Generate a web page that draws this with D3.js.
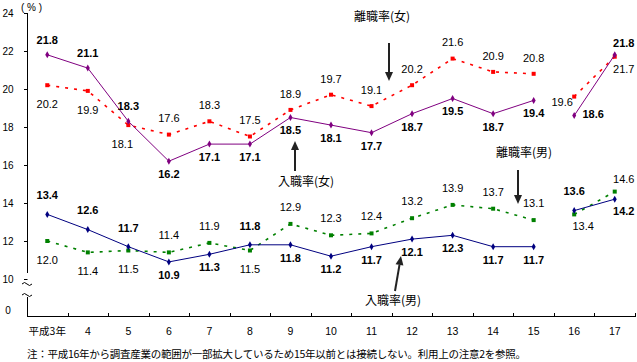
<!DOCTYPE html>
<html>
<head>
<meta charset="utf-8">
<script src="https://cdn.jsdelivr.net/npm/d3@7"></script>
<style>
  body { margin: 0; background: #fff; }
  svg text { font-family: "Liberation Sans", Arial, "Noto Sans CJK JP", sans-serif; }
  .jp { font-family: "Noto Sans CJK JP", sans-serif; }
</style>
</head>
<body>
<svg id="chart" width="637" height="362"></svg>
<script>
// categories (平成3年 .. 17年)
var years = ["平成3年", "4", "5", "6", "7", "8", "9", "10", "11", "12", "13", "14", "15", "16", "17"]
// 15年以前と16年以降は接続しない
var breakAt = 13

var nyuF = [21.8, 21.1, 18.3, 16.2, 17.1, 17.1, 18.5, 18.1, 17.7, 18.7, 19.5, 18.7, 19.4, 18.6, 21.8]
var riF  = [20.2, 19.9, 18.1, 17.6, 18.3, 17.5, 18.9, 19.7, 19.1, 20.2, 21.6, 20.9, 20.8, 19.6, 21.7]
var nyuM = [13.4, 12.6, 11.7, 10.9, 11.3, 11.8, 11.8, 11.2, 11.7, 12.1, 12.3, 11.7, 11.7, 13.6, 14.2]
var riM  = [12.0, 11.4, 11.5, 11.4, 11.9, 11.5, 12.9, 12.3, 12.4, 13.2, 13.9, 13.7, 13.1, 13.4, 14.6]

var yTicks = [10, 12, 14, 16, 18, 20, 22, 24]

// label placement per point (a = above, b = below, others special)
var placeNyuF = ["a","a","a","b","b","b","b","b","b","b","b","b","b","r","ar"]
var placeRiF  = ["b","b","bl","a","a","a","a","a","a","a","a","a","a","l","br"]
var placeNyuM = ["a","a","a","b","b","a","b","b","b","b","b","b","b","a","br"]
var placeRiM  = ["b","b","b","a","a","b","a","a","a","a","a","a","a","br","ar"]

var svg = d3.select("#chart")

var x = d3.scaleBand().domain(years).range([27, 635])
var y = d3.scaleLinear().domain([10, 24]).range([279, 13])
var yZero = 310
var axisY = 316

// y axis (broken between 0 and 10)
svg.append("line").attr("x1", 27.5).attr("x2", 27.5).attr("y1", 13).attr("y2", 273)
  .attr("stroke", "#000")
svg.append("line").attr("x1", 27.5).attr("x2", 27.5).attr("y1", 297).attr("y2", axisY)
  .attr("stroke", "#000")
yTicks.forEach(function (t) {
  svg.append("line").attr("x1", 24).attr("x2", 27.5)
    .attr("y1", Math.round(y(t)) + 0.5).attr("y2", Math.round(y(t)) + 0.5).attr("stroke", "#000")
  svg.append("text").attr("x", 8).attr("y", y(t)).attr("dy", "0.35em")
    .attr("text-anchor", "middle").attr("font-size", 10).text(t)
})
svg.append("text").attr("x", 8).attr("y", yZero).attr("dy", "0.35em")
  .attr("text-anchor", "middle").attr("font-size", 10).text(0)
// break marks
;[283, 294].forEach(function (yy) {
  svg.append("path")
    .attr("d", "M22," + (yy + 1) + " q2.5,-3 5,0 t5,0")
    .attr("fill", "none").attr("stroke", "#000").attr("stroke-width", 1)
})
svg.append("text").attr("x", 21).attr("y", 7).attr("dy", "0.35em").attr("font-size", 10)
  .attr("textLength", 21).attr("lengthAdjust", "spacing").text("(%)")

// x axis
svg.append("line").attr("x1", 27).attr("x2", 636).attr("y1", axisY + 0.5).attr("y2", axisY + 0.5)
  .attr("stroke", "#000")
years.forEach(function (yr, i) {
  var bx = Math.round(x(yr) + x.bandwidth()) + 0.5
  svg.append("line").attr("x1", bx).attr("x2", bx).attr("y1", axisY - 3).attr("y2", axisY)
    .attr("stroke", "#000")
})
svg.append("g").selectAll("text").data(years).enter().append("text")
  .attr("class", function (d, i) { return i === 0 ? "jp" : null })
  .attr("x", function (d) { return x(d) + x.bandwidth() / 2 })
  .attr("y", 331).attr("dy", "0.35em")
  .attr("text-anchor", "middle").attr("font-size", 10.5)
  .text(function (d) { return d })

function cx(i) { return x(years[i]) + x.bandwidth() / 2 }

function drawSeries(values, color, dash, width, marker, place, bold, aboveDy, belowDy) {
  var line = d3.line().x(function (d) { return cx(d.i) }).y(function (d) { return y(d.v) })
  var pts = values.map(function (v, i) { return { v: v, i: i } })
  var segs = [pts.slice(0, breakAt), pts.slice(breakAt)]
  segs.forEach(function (s) {
    svg.append("path").datum(s).attr("d", line)
      .attr("fill", "none").attr("stroke", color).attr("stroke-width", width)
      .attr("stroke-dasharray", dash)
  })
  var sym = d3.symbol().type(marker === "square" ? d3.symbolSquare : d3.symbolDiamond)
    .size(marker === "square" ? 16 : 14)
  svg.append("g").selectAll("path").data(pts).enter().append("path")
    .attr("d", sym)
    .attr("transform", function (d) { return "translate(" + cx(d.i) + "," + y(d.v) + ")" })
    .attr("fill", color)

  var offsets = {
    a: [0, aboveDy], b: [0, belowDy],
    r: [19, -1], l: [-12, 6], bl: [-6, belowDy],
    ar: [9, -12], br: [9, 12]
  }
  svg.append("g").selectAll("text").data(pts).enter().append("text")
    .attr("x", function (d) { return cx(d.i) + offsets[place[d.i]][0] })
    .attr("y", function (d) { return y(d.v) + offsets[place[d.i]][1] })
    .attr("dy", "0.35em")
    .attr("text-anchor", "middle")
    .attr("font-size", 11)
    .attr("font-weight", bold ? "bold" : "normal")
    .attr("fill", "#000")
    .text(function (d) { return d.v.toFixed(1) })
}

drawSeries(riF, "#ff0000", "3,6", 1.6, "square", placeRiF, false, -16, 19)
drawSeries(nyuF, "#800080", null, 1, "diamond", placeNyuF, true, -15, 13)
drawSeries(riM, "#008000", "3,6", 1.6, "square", placeRiM, false, -17, 19)
drawSeries(nyuM, "#000080", null, 1, "diamond", placeNyuM, true, -19, 13)

// annotations with arrows
function arrow(x1, y1, x2, y2) {
  var ang = Math.atan2(y2 - y1, x2 - x1)
  var len = 9, half = 4
  var bx = x2 - len * Math.cos(ang), by = y2 - len * Math.sin(ang)
  svg.append("line").attr("x1", x1).attr("y1", y1).attr("x2", bx).attr("y2", by)
    .attr("stroke", "#222").attr("stroke-width", 2)
  var px = -Math.sin(ang) * half, py = Math.cos(ang) * half
  svg.append("path")
    .attr("d", "M" + x2 + "," + y2 + " L" + (bx + px) + "," + (by + py) + " L" + (bx - px) + "," + (by - py) + "Z")
    .attr("fill", "#222")
}
var notes = [
  { text: "離職率(女)", x: 382, y: 17 },
  { text: "入職率(女)", x: 306, y: 182 },
  { text: "離職率(男)", x: 524, y: 153 },
  { text: "入職率(男)", x: 393, y: 301 }
]
notes.forEach(function (n) {
  svg.append("text").attr("class", "jp").attr("x", n.x).attr("y", n.y).attr("dy", "0.35em")
    .attr("text-anchor", "middle").attr("font-size", 12).text(n.text)
})
arrow(389, 43, 389, 81)
arrow(295, 171, 295, 141)
arrow(518, 170, 518, 204)
arrow(395, 291, 401, 256)

svg.append("text").attr("class", "jp").attr("x", 27).attr("y", 354).attr("dy", "0.35em")
  .attr("font-size", 10.5).attr("textLength", 499).attr("lengthAdjust", "spacing")
  .text("注：平成16年から調査産業の範囲が一部拡大しているため15年以前とは接続しない。利用上の注意2を参照。")
</script>
</body>
</html>
